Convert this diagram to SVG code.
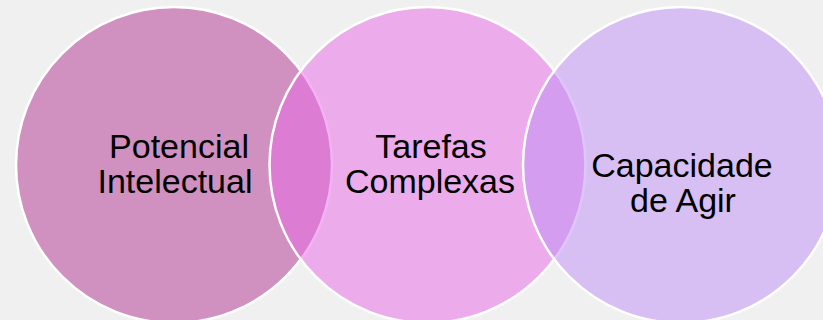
<svg xmlns="http://www.w3.org/2000/svg" width="823" height="320" viewBox="0 0 823 320">
  <style>
    .c { stroke: #ffffff; stroke-width: 2.5; fill-opacity: 0.5; }
    .t { font-family: "Liberation Sans", Arial, sans-serif; font-size: 34px; fill: #000000; text-anchor: middle; }
  </style>
  <rect width="823" height="320" fill="#f0f0f0"/>
  <g id="node-potencial">
    <circle class="c" cx="174" cy="165" r="158" fill="#b03290"/>
    <text class="t"><tspan x="179" y="158">Potencial</tspan><tspan x="175" y="193">Intelectual</tspan></text>
  </g>
  <g id="node-tarefas">
    <circle class="c" cx="427.5" cy="165" r="158" fill="#e868e6"/>
    <text class="t"><tspan x="431" y="158">Tarefas</tspan><tspan x="430" y="193">Complexas</tspan></text>
  </g>
  <g id="node-capacidade">
    <circle class="c" cx="681" cy="165" r="158" fill="#be8ef6"/>
    <text class="t"><tspan x="682" y="177">Capacidade</tspan><tspan x="683" y="212">de Agir</tspan></text>
  </g>
  <g id="connectors"></g>
</svg>
